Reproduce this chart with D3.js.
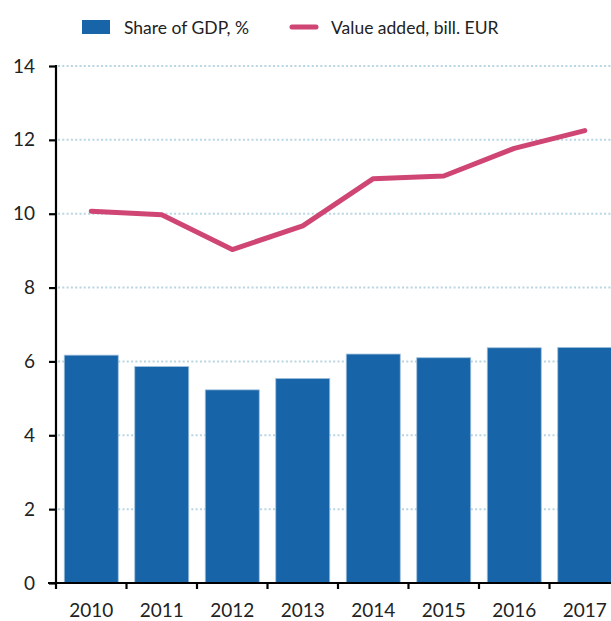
<!DOCTYPE html>
<html>
<head>
<meta charset="utf-8">
<script src="https://cdn.jsdelivr.net/npm/d3@7"></script>
<style>
  html, body { margin: 0; padding: 0; background: #fff; }
  svg { display: block; }
  text { font-family: Lato, "Open Sans", sans-serif; fill: #222; }
</style>
</head>
<body>
<svg id="chart" width="611" height="621"></svg>
<script>
const years = ["2010", "2011", "2012", "2013", "2014", "2015", "2016", "2017"];
const shareOfGDP = [6.17, 5.86, 5.23, 5.54, 6.20, 6.10, 6.37, 6.38];
const valueAdded = [10.07, 9.97, 9.03, 9.67, 10.95, 11.02, 11.77, 12.25];
const yTicks = [0, 2, 4, 6, 8, 10, 12, 14];
const legendLabels = ["Share of GDP, %", "Value added, bill. EUR"];

const svg = d3.select("#chart");
const mLeft = 56, mRight = 620, mTop = 66, mBottom = 583;

const x = d3.scaleBand().domain(years).range([mLeft, mRight])
  .paddingInner(0.234).paddingOuter(0.117);
const y = d3.scaleLinear().domain([0, 14]).range([mBottom, mTop]);

// grid
svg.append("g").selectAll("line").data(yTicks.filter(d => d > 0)).join("line")
  .attr("x1", mLeft + 2).attr("x2", 611)
  .attr("y1", d => y(d)).attr("y2", d => y(d))
  .attr("stroke", "#b9d5e2").attr("stroke-width", 2)
  .attr("stroke-dasharray", "2,2.3");

// bars
svg.append("g").selectAll("rect").data(years).join("rect")
  .attr("x", d => x(d)).attr("width", x.bandwidth())
  .attr("y", (d, i) => y(shareOfGDP[i]))
  .attr("height", (d, i) => mBottom - y(shareOfGDP[i]))
  .attr("fill", "#1864a8").attr("stroke", "#9fc0dc").attr("stroke-width", 0.8);

// line
const line = d3.line().x((d, i) => x(years[i]) + x.bandwidth() / 2).y(d => y(d));
svg.append("path").datum(valueAdded).attr("d", line)
  .attr("fill", "none").attr("stroke", "#cf4574").attr("stroke-width", 5)
  .attr("stroke-linecap", "round").attr("stroke-linejoin", "round");

// y axis
const yAxis = svg.append("g").attr("transform", `translate(${mLeft},0)`)
  .call(d3.axisLeft(y).tickValues(yTicks).tickSize(7).tickPadding(14).tickFormat(d3.format("d")));
yAxis.select(".domain").attr("stroke", "#000").attr("stroke-width", 2.2)
  .attr("d", `M0,${mTop - 1}V${mBottom}`);
yAxis.selectAll(".tick line").attr("stroke", "#000").attr("stroke-width", 2.2);
yAxis.selectAll(".tick text").attr("font-size", 19).attr("fill", "#222")
  .style("font-family", "Lato, 'Open Sans', sans-serif");

// x axis
const xAxis = svg.append("g").attr("transform", `translate(0,${mBottom})`);
xAxis.append("line").attr("x1", mLeft - 8).attr("x2", 611).attr("y1", 0).attr("y2", 0)
  .attr("stroke", "#000").attr("stroke-width", 2.2);
const bounds = years.map(d => x(d) - (x.step() - x.bandwidth()) / 2).concat([mRight]);
xAxis.selectAll("line.tk").data(bounds).join("line").attr("class", "tk")
  .attr("x1", d => d).attr("x2", d => d).attr("y1", 0).attr("y2", 6)
  .attr("stroke", "#000").attr("stroke-width", 2.2);
xAxis.selectAll("text").data(years).join("text")
  .attr("x", d => x(d) + x.bandwidth() / 2).attr("y", 34)
  .attr("text-anchor", "middle").attr("font-size", 19).text(d => d);

// legend
const lg = svg.append("g");
lg.append("rect").attr("x", 82).attr("y", 20).attr("width", 28).attr("height", 14).attr("fill", "#1864a8");
lg.append("text").attr("x", 124).attr("y", 34).attr("font-size", 17.5).text(legendLabels[0]);
lg.append("line").attr("x1", 292).attr("x2", 316).attr("y1", 27).attr("y2", 27)
  .attr("stroke", "#cf4574").attr("stroke-width", 5).attr("stroke-linecap", "round");
lg.append("text").attr("x", 331).attr("y", 34).attr("font-size", 17.5).text(legendLabels[1]);
</script>
</body>
</html>
